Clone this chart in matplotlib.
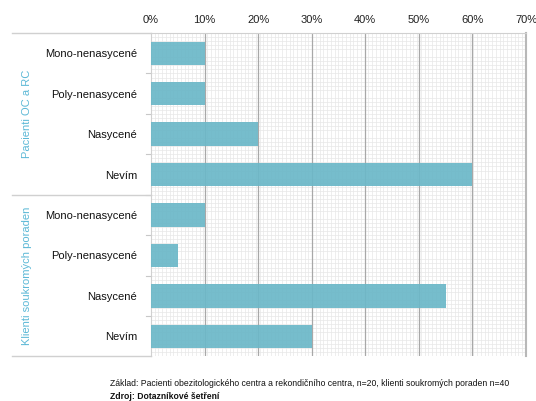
import numpy as np
import matplotlib.pyplot as plt
from matplotlib.lines import Line2D

plt.rcParams['font.family'] = ['Liberation Sans', 'DejaVu Sans']

categories = ['Mono-nenasycené', 'Poly-nenasycené', 'Nasycené', 'Nevím']
groups = ['Pacienti OC a RC', 'Klienti soukromých poraden']
pacienti = [10, 10, 20, 60]
klienti = [10, 5, 55, 30]
xticks = [0, 10, 20, 30, 40, 50, 60, 70]

bar_color = '#6cb8c8'
group_color = '#5bb8d6'

values = pacienti + klienti
labels = categories + categories
n = len(values)
y = np.arange(n)

fig = plt.figure(figsize=(5.36, 4.01), dpi=100)
ax = fig.add_axes([0.2817, 0.111, 0.6996, 0.8066])
ax.set_axisbelow(True)

ax.barh(y, values, height=0.58, color=bar_color, alpha=0.93, zorder=3)
ax.set_ylim(n - 0.5, -0.5)
ax.set_xlim(0, 70)

# fine background grid
ax.set_xticks(np.arange(0, 70.01, 0.7), minor=True)
ax.set_yticks(np.arange(-0.5, n - 0.5, 0.1), minor=True)
ax.grid(which='minor', color='#e8e8e8', linewidth=0.5)
ax.grid(which='major', visible=False)
ax.tick_params(which='minor', length=0)

# major vertical lines every 10 %
for v in xticks[1:-1]:
    ax.axvline(v, color='#a8a8a8', lw=0.9, zorder=2)

ax.set_xticks(xticks)
ax.set_xticklabels([f'{v}%' for v in xticks])
ax.xaxis.tick_top()
ax.tick_params(axis='x', which='major', length=0, labelsize=8, pad=6,
               colors='#222222')

ax.set_yticks(y)
ax.set_yticklabels(labels)
ax.tick_params(axis='y', which='major', length=0, labelsize=8, pad=10,
               colors='#111111')

for s in ['left', 'top']:
    ax.spines[s].set_color('#d0d0d0')
    ax.spines[s].set_linewidth(0.8)
ax.spines['bottom'].set_visible(False)
ax.spines['right'].set_color('#b8b8b8')
ax.spines['right'].set_linewidth(1.5)

# short ticks on the category boundaries
for b in np.arange(0.5, n - 0.5, 1.0):
    ax.plot([-0.012, 0], [b, b], transform=ax.get_yaxis_transform(),
            color='#c8c8c8', lw=0.8, clip_on=False)

# group separators reaching into the label area
for b in [-0.5, 3.5, 7.5]:
    ax.add_line(Line2D([-0.37, 0], [b, b], transform=ax.get_yaxis_transform(),
                       color='#d0d0d0', lw=1.0, clip_on=False))

for i, g in enumerate(groups):
    ax.text(-0.33, 1.5 + 4 * i, g, transform=ax.get_yaxis_transform(),
            rotation=90, ha='center', va='center', fontsize=8,
            color=group_color)

fig.text(0.205, 0.043, 'Základ: Pacienti obezitologického centra a rekondičního '
         'centra, n=20, klienti soukromých poraden n=40',
         fontsize=6.2, color='#111111', va='center')
fig.text(0.205, 0.012, 'Zdroj: Dotazníkové šetření', fontsize=6.2,
         fontweight='bold', color='#111111', va='center')

fig.savefig('out.png', dpi=100)
